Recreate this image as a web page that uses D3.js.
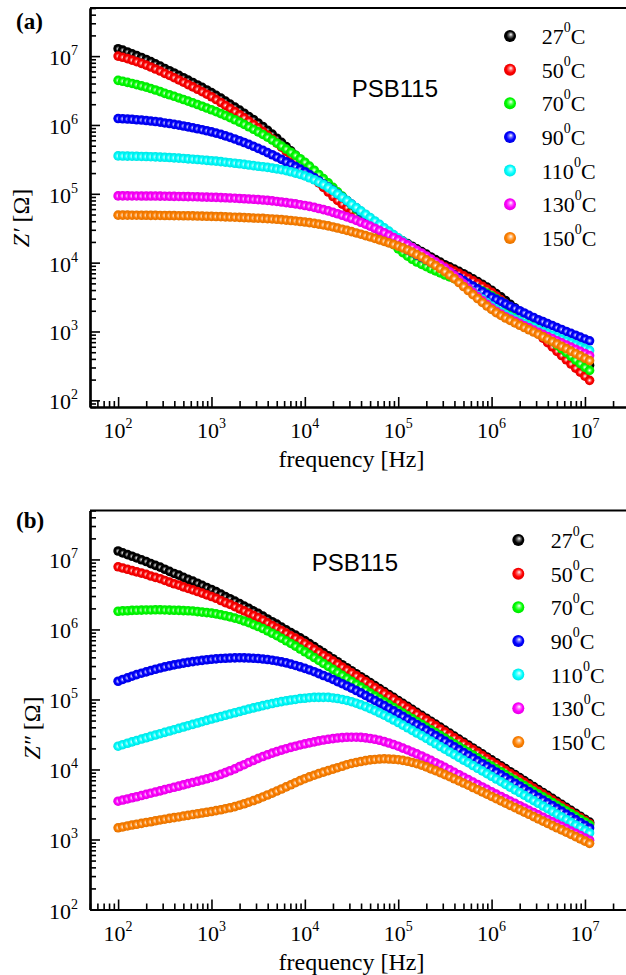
<!DOCTYPE html>
<html><head><meta charset="utf-8">
<script src="https://cdn.jsdelivr.net/npm/d3@7"></script>
<style>body{margin:0;background:#fff}svg{display:block}</style>
</head><body>
<svg id="c" width="626" height="975"></svg>
<script>
const freq=[1.00e2,1.12e2,1.26e2,1.41e2,1.58e2,1.78e2,2.00e2,2.24e2,2.51e2,2.82e2,3.16e2,3.55e2,3.98e2,4.47e2,5.01e2,5.62e2,6.31e2,7.08e2,7.94e2,8.91e2,
1.00e3,1.12e3,1.26e3,1.41e3,1.58e3,1.78e3,2.00e3,2.24e3,2.51e3,2.82e3,3.16e3,3.55e3,3.98e3,4.47e3,5.01e3,5.62e3,6.31e3,7.08e3,7.94e3,8.91e3,
1.00e4,1.12e4,1.26e4,1.41e4,1.58e4,1.78e4,2.00e4,2.24e4,2.51e4,2.82e4,3.16e4,3.55e4,3.98e4,4.47e4,5.01e4,5.62e4,6.31e4,7.08e4,7.94e4,8.91e4,
1.00e5,1.12e5,1.26e5,1.41e5,1.58e5,1.78e5,2.00e5,2.24e5,2.51e5,2.82e5,3.16e5,3.55e5,3.98e5,4.47e5,5.01e5,5.62e5,6.31e5,7.08e5,7.94e5,8.91e5,
1.00e6,1.12e6,1.26e6,1.41e6,1.58e6,1.78e6,2.00e6,2.24e6,2.51e6,2.82e6,3.16e6,3.55e6,3.98e6,4.47e6,5.01e6,5.62e6,6.31e6,7.08e6,7.94e6,8.91e6,
1.00e7,1.12e7];
const temps=["27","50","70","90","110","130","150"];
const colors=["#000000","#ff0000","#00ff00","#0000ff","#00ffff","#ff00ff","#ff8000"];
const xTickExps=[2,3,4,5,6,7];
const yTickExps=[2,3,4,5,6,7];

// (a) Z' [Ohm]
const zr27=[1.28e7,1.22e7,1.15e7,1.08e7,1.02e7,9.55e6,8.93e6,8.34e6,7.74e6,7.18e6,
6.61e6,6.14e6,5.69e6,5.26e6,4.86e6,4.49e6,4.14e6,3.81e6,3.51e6,3.22e6,
2.95e6,2.69e6,2.45e6,2.22e6,2.01e6,1.82e6,1.64e6,1.48e6,1.33e6,1.20e6,
1.07e6,9.51e5,8.38e5,7.35e5,6.41e5,5.58e5,4.85e5,4.21e5,3.64e5,3.13e5,
2.69e5,2.31e5,1.98e5,1.69e5,1.45e5,1.25e5,1.07e5,9.25e4,8.04e4,7.01e4,
6.17e4,5.45e4,4.84e4,4.33e4,3.89e4,3.52e4,3.19e4,2.90e4,2.65e4,2.43e4,
2.24e4,2.06e4,1.89e4,1.73e4,1.59e4,1.45e4,1.33e4,1.21e4,1.11e4,1.02e4,
9.33e3,8.69e3,8.07e3,7.48e3,6.90e3,6.35e3,5.83e3,5.33e3,4.86e3,4.42e3,
3.98e3,3.56e3,3.18e3,2.82e3,2.49e3,2.20e3,1.94e3,1.71e3,1.50e3,1.31e3,
1.15e3,1.01e3,8.93e2,7.91e2,7.01e2,6.24e2,5.56e2,4.95e2,4.43e2,3.96e2,
3.55e2,3.24e2];
const zr50=[1.00e7,9.62e6,9.20e6,8.75e6,8.30e6,7.85e6,7.40e6,6.95e6,6.50e6,6.07e6,
5.62e6,5.24e6,4.86e6,4.51e6,4.18e6,3.86e6,3.57e6,3.30e6,3.04e6,2.80e6,
2.57e6,2.34e6,2.12e6,1.92e6,1.74e6,1.57e6,1.41e6,1.27e6,1.14e6,1.02e6,
9.12e5,8.09e5,7.13e5,6.25e5,5.46e5,4.75e5,4.13e5,3.58e5,3.10e5,2.67e5,
2.29e5,1.96e5,1.68e5,1.44e5,1.24e5,1.06e5,9.12e4,8.00e4,7.08e4,6.30e4,
5.62e4,4.97e4,4.42e4,3.94e4,3.55e4,3.21e4,2.91e4,2.65e4,2.42e4,2.22e4,
2.04e4,1.88e4,1.73e4,1.59e4,1.46e4,1.34e4,1.23e4,1.12e4,1.03e4,9.48e3,
8.71e3,8.11e3,7.53e3,6.98e3,6.44e3,5.93e3,5.45e3,4.98e3,4.54e3,4.12e3,
3.72e3,3.28e3,2.88e3,2.52e3,2.20e3,1.92e3,1.67e3,1.45e3,1.25e3,1.08e3,
9.33e2,8.02e2,6.90e2,5.96e2,5.15e2,4.47e2,3.88e2,3.37e2,2.94e2,2.56e2,
2.24e2,1.95e2];
const zr70=[4.45e6,4.31e6,4.16e6,4.01e6,3.85e6,3.70e6,3.54e6,3.38e6,3.22e6,3.05e6,
2.88e6,2.74e6,2.61e6,2.47e6,2.34e6,2.22e6,2.10e6,1.98e6,1.87e6,1.76e6,
1.66e6,1.56e6,1.46e6,1.37e6,1.28e6,1.19e6,1.10e6,1.02e6,9.40e5,8.65e5,
7.94e5,7.28e5,6.64e5,6.04e5,5.48e5,4.95e5,4.47e5,4.02e5,3.61e5,3.23e5,
2.88e5,2.52e5,2.20e5,1.91e5,1.66e5,1.44e5,1.24e5,1.07e5,9.27e4,8.00e4,
6.92e4,5.97e4,5.15e4,4.44e4,3.82e4,3.29e4,2.84e4,2.45e4,2.12e4,1.83e4,
1.58e4,1.40e4,1.24e4,1.12e4,1.02e4,9.42e3,8.73e3,8.13e3,7.59e3,7.08e3,
6.61e3,6.22e3,5.86e3,5.51e3,5.16e3,4.83e3,4.51e3,4.20e3,3.90e3,3.61e3,
3.31e3,3.02e3,2.73e3,2.45e3,2.19e3,1.95e3,1.73e3,1.53e3,1.35e3,1.19e3,
1.05e3,9.23e2,8.13e2,7.18e2,6.34e2,5.60e2,4.94e2,4.37e2,3.85e2,3.41e2,
3.02e2,2.72e2];
const zr90=[1.24e6,1.23e6,1.22e6,1.21e6,1.19e6,1.18e6,1.16e6,1.14e6,1.12e6,1.10e6,
1.07e6,1.05e6,1.02e6,9.93e5,9.66e5,9.38e5,9.10e5,8.81e5,8.53e5,8.24e5,
7.94e5,7.62e5,7.29e5,6.95e5,6.61e5,6.25e5,5.90e5,5.56e5,5.22e5,4.90e5,
4.57e5,4.27e5,3.97e5,3.69e5,3.42e5,3.16e5,2.92e5,2.70e5,2.48e5,2.28e5,
2.09e5,1.90e5,1.72e5,1.55e5,1.39e5,1.25e5,1.12e5,1.00e5,8.93e4,7.96e4,
7.08e4,6.24e4,5.48e4,4.81e4,4.21e4,3.68e4,3.22e4,2.82e4,2.48e4,2.17e4,
1.91e4,1.71e4,1.54e4,1.41e4,1.29e4,1.19e4,1.10e4,1.01e4,9.35e3,8.63e3,
7.94e3,7.24e3,6.61e3,6.03e3,5.50e3,5.01e3,4.57e3,4.17e3,3.80e3,3.47e3,
3.16e3,2.93e3,2.72e3,2.52e3,2.33e3,2.16e3,2.00e3,1.86e3,1.72e3,1.60e3,
1.48e3,1.39e3,1.30e3,1.22e3,1.14e3,1.07e3,1.00e3,9.42e2,8.83e2,8.28e2,
7.76e2,7.33e2];
const zr110=[3.55e5,3.54e5,3.53e5,3.52e5,3.51e5,3.49e5,3.48e5,3.46e5,3.44e5,3.41e5,
3.39e5,3.36e5,3.33e5,3.30e5,3.26e5,3.22e5,3.18e5,3.15e5,3.10e5,3.06e5,
3.02e5,2.98e5,2.93e5,2.88e5,2.83e5,2.78e5,2.73e5,2.68e5,2.62e5,2.57e5,
2.51e5,2.47e5,2.42e5,2.36e5,2.30e5,2.24e5,2.17e5,2.09e5,2.00e5,1.91e5,
1.82e5,1.71e5,1.60e5,1.48e5,1.36e5,1.23e5,1.11e5,9.95e4,8.91e4,7.96e4,
7.08e4,6.32e4,5.65e4,5.05e4,4.51e4,4.03e4,3.60e4,3.21e4,2.87e4,2.56e4,
2.29e4,2.06e4,1.84e4,1.66e4,1.49e4,1.33e4,1.20e4,1.07e4,9.64e3,8.65e3,
7.76e3,6.92e3,6.15e3,5.46e3,4.83e3,4.27e3,3.77e3,3.33e3,2.96e3,2.63e3,
2.34e3,2.11e3,1.92e3,1.76e3,1.63e3,1.51e3,1.41e3,1.31e3,1.22e3,1.15e3,
1.07e3,1.00e3,9.42e2,8.83e2,8.28e2,7.76e2,7.28e2,6.83e2,6.40e2,6.00e2,
5.63e2,5.31e2];
const zr130=[9.33e4,9.33e4,9.33e4,9.31e4,9.31e4,9.29e4,9.29e4,9.27e4,9.27e4,9.25e4,
9.23e4,9.20e4,9.18e4,9.16e4,9.14e4,9.10e4,9.08e4,9.04e4,8.99e4,8.95e4,
8.91e4,8.87e4,8.81e4,8.75e4,8.69e4,8.63e4,8.55e4,8.47e4,8.39e4,8.32e4,
8.22e4,8.13e4,8.02e4,7.89e4,7.74e4,7.60e4,7.45e4,7.29e4,7.13e4,6.95e4,
6.76e4,6.56e4,6.35e4,6.12e4,5.89e4,5.64e4,5.38e4,5.13e4,4.88e4,4.62e4,
4.37e4,4.11e4,3.86e4,3.62e4,3.39e4,3.16e4,2.93e4,2.72e4,2.51e4,2.32e4,
2.14e4,1.97e4,1.81e4,1.66e4,1.51e4,1.38e4,1.25e4,1.13e4,1.02e4,9.23e3,
8.32e3,7.38e3,6.49e3,5.66e3,4.92e3,4.27e3,3.70e3,3.22e3,2.82e3,2.48e3,
2.19e3,1.97e3,1.79e3,1.64e3,1.52e3,1.41e3,1.31e3,1.21e3,1.13e3,1.05e3,
9.77e2,9.10e2,8.47e2,7.89e2,7.35e2,6.84e2,6.37e2,5.93e2,5.52e2,5.14e2,
4.79e2,4.47e2];
const zr150=[4.90e4,4.90e4,4.90e4,4.89e4,4.89e4,4.88e4,4.88e4,4.86e4,4.86e4,4.85e4,
4.84e4,4.83e4,4.82e4,4.81e4,4.80e4,4.79e4,4.78e4,4.75e4,4.74e4,4.72e4,
4.70e4,4.68e4,4.66e4,4.62e4,4.60e4,4.57e4,4.54e4,4.51e4,4.48e4,4.45e4,
4.42e4,4.39e4,4.35e4,4.31e4,4.26e4,4.21e4,4.15e4,4.09e4,4.03e4,3.96e4,
3.89e4,3.81e4,3.72e4,3.63e4,3.53e4,3.42e4,3.30e4,3.18e4,3.06e4,2.94e4,
2.82e4,2.70e4,2.59e4,2.47e4,2.36e4,2.25e4,2.14e4,2.04e4,1.94e4,1.84e4,
1.74e4,1.64e4,1.53e4,1.42e4,1.31e4,1.21e4,1.10e4,1.00e4,9.10e3,8.22e3,
7.41e3,6.61e3,5.85e3,5.14e3,4.50e3,3.93e3,3.43e3,3.01e3,2.65e3,2.34e3,
2.09e3,1.88e3,1.71e3,1.57e3,1.45e3,1.33e3,1.23e3,1.14e3,1.06e3,9.82e2,
9.12e2,8.41e2,7.76e2,7.16e2,6.61e2,6.10e2,5.63e2,5.19e2,4.79e2,4.42e2,
4.08e2,3.78e2];

// (b) Z'' [Ohm]
const zi27=[1.32e7,1.24e7,1.17e7,1.11e7,1.05e7,9.89e6,9.33e6,8.71e6,8.22e6,7.76e6,
7.24e6,6.76e6,6.31e6,5.96e6,5.56e6,5.19e6,4.90e6,4.57e6,4.27e6,3.98e6,
3.72e6,3.47e6,3.20e6,2.95e6,2.75e6,2.54e6,2.34e6,2.16e6,2.00e6,1.84e6,
1.70e6,1.55e6,1.41e6,1.29e6,1.19e6,1.08e6,9.89e5,9.02e5,8.32e5,7.59e5,
6.92e5,6.27e5,5.68e5,5.14e5,4.66e5,4.22e5,3.82e5,3.46e5,3.13e5,2.84e5,
2.57e5,2.33e5,2.11e5,1.92e5,1.74e5,1.58e5,1.43e5,1.30e5,1.18e5,1.07e5,
9.68e4,8.79e4,7.96e4,7.23e4,6.55e4,5.94e4,5.40e4,4.89e4,4.44e4,4.02e4,
3.65e4,3.31e4,3.00e4,2.72e4,2.47e4,2.24e4,2.03e4,1.84e4,1.67e4,1.51e4,
1.37e4,1.25e4,1.13e4,1.03e4,9.29e3,8.43e3,7.66e3,6.93e3,6.30e3,5.70e3,
5.18e3,4.70e3,4.26e3,3.86e3,3.50e3,3.18e3,2.88e3,2.61e3,2.37e3,2.15e3,
1.95e3,1.77e3];
const zi50=[7.85e6,7.53e6,7.23e6,6.93e6,6.65e6,6.38e6,6.12e6,5.79e6,5.55e6,5.31e6,
5.01e6,4.74e6,4.49e6,4.30e6,4.06e6,3.85e6,3.68e6,3.48e6,3.30e6,3.12e6,
2.95e6,2.79e6,2.59e6,2.42e6,2.28e6,2.12e6,1.97e6,1.84e6,1.71e6,1.59e6,
1.48e6,1.36e6,1.24e6,1.14e6,1.05e6,9.66e5,8.85e5,8.11e5,7.52e5,6.89e5,
6.31e5,5.73e5,5.20e5,4.72e5,4.29e5,3.90e5,3.53e5,3.21e5,2.91e5,2.64e5,
2.40e5,2.18e5,1.97e5,1.80e5,1.63e5,1.48e5,1.34e5,1.22e5,1.11e5,1.01e5,
9.12e4,8.30e4,7.51e4,6.83e4,6.18e4,5.61e4,5.10e4,4.62e4,4.19e4,3.79e4,
3.45e4,3.12e4,2.83e4,2.57e4,2.33e4,2.11e4,1.92e4,1.74e4,1.58e4,1.43e4,
1.29e4,1.18e4,1.07e4,9.72e3,8.77e3,7.96e3,7.23e3,6.54e3,5.95e3,5.38e3,
4.89e3,4.45e3,4.03e3,3.66e3,3.32e3,3.02e3,2.74e3,2.48e3,2.26e3,2.05e3,
1.86e3,1.69e3];
const zi70=[1.82e6,1.84e6,1.85e6,1.87e6,1.88e6,1.89e6,1.90e6,1.90e6,1.91e6,1.91e6,
1.90e6,1.89e6,1.88e6,1.87e6,1.86e6,1.85e6,1.83e6,1.80e6,1.77e6,1.74e6,
1.71e6,1.67e6,1.62e6,1.57e6,1.51e6,1.45e6,1.39e6,1.32e6,1.25e6,1.17e6,
1.10e6,1.03e6,9.55e5,8.83e5,8.15e5,7.50e5,6.89e5,6.31e5,5.77e5,5.26e5,
4.80e5,4.37e5,3.97e5,3.61e5,3.27e5,2.97e5,2.69e5,2.44e5,2.21e5,2.00e5,
1.82e5,1.65e5,1.50e5,1.36e5,1.23e5,1.12e5,1.02e5,9.27e4,8.43e4,7.69e4,
7.01e4,6.39e4,5.83e4,5.32e4,4.85e4,4.43e4,4.04e4,3.68e4,3.36e4,3.07e4,
2.80e4,2.55e4,2.33e4,2.12e4,1.94e4,1.77e4,1.61e4,1.47e4,1.34e4,1.22e4,
1.12e4,1.02e4,9.29e3,8.47e3,7.73e3,7.05e3,6.43e3,5.87e3,5.35e3,4.88e3,
4.46e3,4.06e3,3.71e3,3.38e3,3.08e3,2.81e3,2.57e3,2.34e3,2.14e3,1.95e3,
1.78e3,1.62e3];
const zi90=[1.82e5,1.93e5,2.04e5,2.15e5,2.26e5,2.37e5,2.48e5,2.59e5,2.70e5,2.81e5,
2.92e5,3.02e5,3.12e5,3.21e5,3.30e5,3.39e5,3.47e5,3.55e5,3.62e5,3.69e5,
3.75e5,3.80e5,3.85e5,3.88e5,3.91e5,3.93e5,3.94e5,3.93e5,3.91e5,3.88e5,
3.84e5,3.78e5,3.72e5,3.64e5,3.55e5,3.44e5,3.33e5,3.20e5,3.06e5,2.92e5,
2.78e5,2.64e5,2.49e5,2.34e5,2.20e5,2.07e5,1.93e5,1.80e5,1.68e5,1.56e5,
1.45e5,1.34e5,1.24e5,1.14e5,1.05e5,9.68e4,8.89e4,8.17e4,7.48e4,6.86e4,
6.28e4,5.74e4,5.25e4,4.80e4,4.39e4,4.01e4,3.66e4,3.34e4,3.05e4,2.78e4,
2.54e4,2.31e4,2.11e4,1.92e4,1.75e4,1.60e4,1.46e4,1.33e4,1.21e4,1.11e4,
1.01e4,9.20e3,8.39e3,7.65e3,6.98e3,6.37e3,5.81e3,5.30e3,4.83e3,4.41e3,
4.02e3,3.66e3,3.34e3,3.05e3,2.78e3,2.54e3,2.31e3,2.11e3,1.92e3,1.75e3,
1.60e3,1.46e3];
const zi110=[2.15e4,2.26e4,2.37e4,2.48e4,2.59e4,2.72e4,2.84e4,2.97e4,3.10e4,3.24e4,
3.39e4,3.54e4,3.70e4,3.86e4,4.04e4,4.22e4,4.41e4,4.60e4,4.81e4,5.02e4,
5.25e4,5.47e4,5.70e4,5.94e4,6.19e4,6.46e4,6.73e4,7.01e4,7.29e4,7.59e4,
7.87e4,8.17e4,8.45e4,8.75e4,9.04e4,9.31e4,9.57e4,9.82e4,1.00e5,1.03e5,
1.04e5,1.06e5,1.07e5,1.07e5,1.07e5,1.07e5,1.05e5,1.03e5,1.00e5,9.68e4,
9.29e4,8.85e4,8.39e4,7.91e4,7.41e4,6.92e4,6.43e4,5.96e4,5.51e4,5.08e4,
4.68e4,4.30e4,3.94e4,3.62e4,3.32e4,3.04e4,2.79e4,2.55e4,2.33e4,2.13e4,
1.95e4,1.78e4,1.63e4,1.49e4,1.36e4,1.25e4,1.14e4,1.04e4,9.54e3,8.73e3,
7.99e3,7.31e3,6.69e3,6.12e3,5.60e3,5.12e3,4.69e3,4.29e3,3.92e3,3.59e3,
3.29e3,3.01e3,2.75e3,2.52e3,2.30e3,2.11e3,1.93e3,1.76e3,1.61e3,1.48e3,
1.35e3,1.24e3];
const zi130=[3.52e3,3.66e3,3.79e3,3.94e3,4.08e3,4.24e3,4.41e3,4.58e3,4.76e3,4.95e3,
5.15e3,5.36e3,5.57e3,5.79e3,6.03e3,6.27e3,6.52e3,6.78e3,7.06e3,7.36e3,
7.69e3,8.07e3,8.51e3,9.02e3,9.59e3,1.02e4,1.10e4,1.17e4,1.26e4,1.35e4,
1.44e4,1.53e4,1.62e4,1.71e4,1.80e4,1.89e4,1.98e4,2.07e4,2.15e4,2.24e4,
2.32e4,2.40e4,2.48e4,2.56e4,2.63e4,2.70e4,2.76e4,2.81e4,2.85e4,2.88e4,
2.89e4,2.89e4,2.87e4,2.83e4,2.77e4,2.70e4,2.61e4,2.50e4,2.39e4,2.27e4,
2.15e4,2.02e4,1.90e4,1.78e4,1.67e4,1.56e4,1.45e4,1.35e4,1.25e4,1.16e4,
1.07e4,9.89e3,9.12e3,8.41e3,7.76e3,7.16e3,6.61e3,6.10e3,5.62e3,5.19e3,
4.79e3,4.44e3,4.12e3,3.82e3,3.54e3,3.28e3,3.04e3,2.82e3,2.61e3,2.42e3,
2.25e3,2.08e3,1.93e3,1.79e3,1.66e3,1.54e3,1.43e3,1.32e3,1.23e3,1.14e3,
1.05e3,9.76e2];
const zi150=[1.47e3,1.51e3,1.56e3,1.61e3,1.65e3,1.70e3,1.75e3,1.79e3,1.85e3,1.90e3,
1.95e3,2.00e3,2.05e3,2.10e3,2.16e3,2.21e3,2.27e3,2.33e3,2.39e3,2.45e3,
2.51e3,2.58e3,2.66e3,2.75e3,2.84e3,2.95e3,3.09e3,3.24e3,3.41e3,3.60e3,
3.80e3,4.05e3,4.32e3,4.60e3,4.92e3,5.26e3,5.64e3,6.04e3,6.47e3,6.92e3,
7.38e3,7.83e3,8.28e3,8.73e3,9.18e3,9.64e3,1.01e4,1.06e4,1.11e4,1.17e4,
1.22e4,1.26e4,1.30e4,1.34e4,1.37e4,1.39e4,1.41e4,1.42e4,1.41e4,1.40e4,
1.38e4,1.35e4,1.31e4,1.26e4,1.21e4,1.15e4,1.09e4,1.02e4,9.62e3,9.02e3,
8.43e3,7.89e3,7.36e3,6.87e3,6.40e3,5.96e3,5.53e3,5.14e3,4.78e3,4.44e3,
4.12e3,3.83e3,3.56e3,3.30e3,3.07e3,2.85e3,2.65e3,2.46e3,2.29e3,2.12e3,
1.97e3,1.83e3,1.70e3,1.58e3,1.47e3,1.37e3,1.27e3,1.18e3,1.10e3,1.02e3,
9.47e2,8.80e2];

const SERIF='"Liberation Serif","Times New Roman",Times,serif';
const SANS='"Liberation Sans",Arial,Helvetica,sans-serif';
const svg=d3.select("#c");
const defs=svg.append("defs");
colors.forEach((c,i)=>{
  const g=defs.append("radialGradient").attr("id","m"+i).attr("cx","50%").attr("cy","50%").attr("r","50%");
  g.append("stop").attr("offset","0").attr("stop-color","#ffffff");
  g.append("stop").attr("offset","0.28").attr("stop-color",d3.interpolateRgb("#ffffff",c)(0.55));
  g.append("stop").attr("offset","0.55").attr("stop-color",c);
  g.append("stop").attr("offset","1").attr("stop-color",d3.color(c).darker(0.35).formatHex());
  const h=defs.append("radialGradient").attr("id","l"+i).attr("cx","50%").attr("cy","50%").attr("r","55%").attr("fx","58%").attr("fy","36%");
  h.append("stop").attr("offset","0").attr("stop-color","#ffffff");
  h.append("stop").attr("offset","0.3").attr("stop-color",d3.interpolateRgb("#ffffff",c)(0.6));
  h.append("stop").attr("offset","0.6").attr("stop-color",c);
  h.append("stop").attr("offset","1").attr("stop-color",d3.color(c).darker(0.4).formatHex());
});

function minorVals(dom){
  const out=[];
  for(let e=1;e<=8;e++){for(let m=2;m<=9;m++){const v=m*Math.pow(10,e);if(v>=dom[0]*0.999&&v<=dom[1]*1.001)out.push(v);}}
  return out;
}

function panel(cfg){
  const x=d3.scaleLog().domain([50,3e7]).range([90,629.5]);
  const y=d3.scaleLog().domain(cfg.yDomain).range([cfg.bottom,cfg.top]);
  const g=svg.append("g");
  cfg.series.forEach((s,i)=>{
    g.append("g").selectAll("circle").data(s.map((v,j)=>({f:freq[j],v:v}))).join("circle")
      .attr("cx",d=>x(d.f)).attr("cy",d=>y(d.v)).attr("r",4.8).attr("fill",`url(#m${i})`);
  });
  g.append("line").attr("x1",90).attr("x2",640).attr("y1",cfg.top).attr("y2",cfg.top).attr("stroke","#000").attr("stroke-width",2);
  const majX=xTickExps.map(e=>Math.pow(10,e));
  const majY=yTickExps.map(e=>Math.pow(10,e));
  const styleAx=sel=>{sel.select(".domain").attr("stroke-width",2.2);sel.selectAll(".tick line").attr("stroke-width",1.6);sel.selectAll(".tick text").remove();};
  g.append("g").attr("transform",`translate(0,${cfg.bottom})`)
    .call(d3.axisBottom(x).tickValues(minorVals(x.domain())).tickSize(-6).tickSizeOuter(0).tickFormat(()=>"")).call(styleAx);
  g.append("g").attr("transform",`translate(0,${cfg.bottom})`)
    .call(d3.axisBottom(x).tickValues(majX).tickSize(-10).tickSizeOuter(0).tickFormat(()=>"")).call(styleAx);
  g.append("g").attr("transform",`translate(90,0)`)
    .call(d3.axisLeft(y).tickValues(minorVals(y.domain())).tickSize(-6).tickSizeOuter(0).tickFormat(()=>"")).call(styleAx);
  g.append("g").attr("transform",`translate(90,0)`)
    .call(d3.axisLeft(y).tickValues(majY).tickSize(-10).tickSizeOuter(0).tickFormat(()=>"")).call(styleAx);
  xTickExps.forEach(e=>{
    const t=g.append("text").attr("x",x(Math.pow(10,e))).attr("y",cfg.bottom+31).attr("text-anchor","middle")
      .attr("font-family",SERIF).attr("font-size",22).text("10");
    t.append("tspan").attr("dy",-10).attr("font-size",14).text(e);
  });
  yTickExps.forEach(e=>{
    const t=g.append("text").attr("x",78).attr("y",y(Math.pow(10,e))+9).attr("text-anchor","end")
      .attr("font-family",SERIF).attr("font-size",22).text("10");
    t.append("tspan").attr("dy",-10).attr("font-size",14).text(e);
  });
  g.append("text").attr("x",351.5).attr("y",cfg.bottom+60).attr("text-anchor","middle")
    .attr("font-family",SERIF).attr("font-size",24).text("frequency [Hz]");
  const yt=g.append("text").attr("transform",`translate(${cfg.ytX},${cfg.ytY}) rotate(-90)`).attr("text-anchor","middle")
    .attr("font-family",SERIF).attr("font-size",24);
  yt.append("tspan").attr("font-style","italic").text("Z"+cfg.prime);
  yt.append("tspan").text(" [\u03A9]");
  g.append("text").attr("x",16).attr("y",cfg.letterY).attr("font-family",SERIF).attr("font-weight","bold")
    .attr("font-size",23).text(cfg.letter);
  g.append("text").attr("x",cfg.nameX).attr("y",cfg.nameY).attr("font-family",SANS).attr("font-size",24).text("PSB115");
  temps.forEach((t,i)=>{
    const ly=cfg.legY+i*33.65;
    g.append("circle").attr("cx",cfg.legX).attr("cy",ly).attr("r",6).attr("fill",`url(#l${i})`);
    const tx=g.append("text").attr("x",cfg.legTX).attr("y",ly+8).attr("font-family",SERIF).attr("font-size",22).text(t);
    tx.append("tspan").attr("dy",-12).attr("font-size",14).text("0");
    tx.append("tspan").attr("dy",12).text("C");
  });
}

panel({series:[zr27,zr50,zr70,zr90,zr110,zr130,zr150],yDomain:[80,5e7],top:8,bottom:407,
  prime:"\u2032",ytX:28.5,ytY:218,letter:"(a)",letterY:29,nameX:351.7,nameY:96.5,legX:510,legY:36,legTX:541.7});
panel({series:[zi27,zi50,zi70,zi90,zi110,zi130,zi150],yDomain:[100,5e7],top:510.5,bottom:909.5,
  prime:"\u2033",ytX:40,ytY:728,letter:"(b)",letterY:528,nameX:311.7,nameY:571,legX:518.3,legY:540,legTX:550.7});
</script>
</body></html>
